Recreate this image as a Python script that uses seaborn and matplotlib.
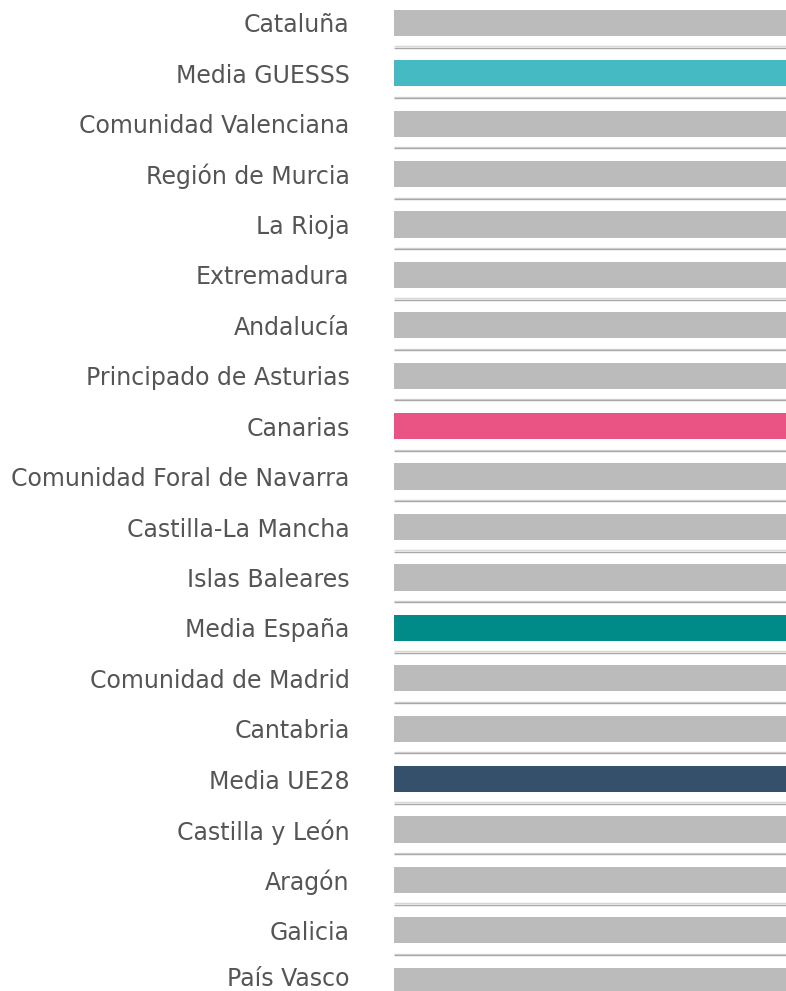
import pandas as pd
import matplotlib.pyplot as plt
import matplotlib.transforms as mtransforms
import seaborn as sns

# Regions in chart order (top to bottom)
regiones = [
    "Cataluña", "Media GUESSS", "Comunidad Valenciana", "Región de Murcia",
    "La Rioja", "Extremadura", "Andalucía", "Principado de Asturias",
    "Canarias", "Comunidad Foral de Navarra", "Castilla-La Mancha",
    "Islas Baleares", "Media España", "Comunidad de Madrid", "Cantabria",
    "Media UE28", "Castilla y León", "Aragón", "Galicia", "País Vasco",
]
# all bars reach the same length in the picture
valores = [100] * len(regiones)

colores_destacados = {
    "Media GUESSS": "#45bac3",
    "Canarias": "#e95485",
    "Media España": "#008a88",
    "Media UE28": "#35506b",
}
gris = "#bbbbbb"

df = pd.DataFrame({"region": regiones, "valor": valores})
palette = {r: colores_destacados.get(r, gris) for r in regiones}

sns.set_style("white")
plt.rcParams["font.family"] = ["DejaVu Sans"]

fig = plt.figure(figsize=(7.86, 9.91), dpi=100)
ax = fig.add_axes([394 / 786, 0, 1 - 394 / 786, 1])

sns.barplot(data=df, x="valor", y="region", hue="region", palette=palette,
            order=regiones, orient="h", width=0.52, legend=False,
            saturation=1, linewidth=0, ax=ax)

# separator lines between rows (light line with a darker one beneath)
n = len(regiones)
ax.hlines([i + 0.465 for i in range(n - 1)], 0, 100, color="#d6d6d6",
          linewidth=1.0, zorder=3)
ax.hlines([i + 0.49 for i in range(n - 1)], 0, 100, color="#a8a8a8",
          linewidth=1.0, zorder=3)

ax.set_xlim(0, 100)
ax.set_ylim(19.206, -0.456)
ax.set_xlabel("")
ax.set_ylabel("")
ax.set_xticks([])
ax.tick_params(axis="y", length=0, pad=32, labelsize=17, labelcolor="#555555")
sns.despine(ax=ax, left=True, bottom=True)

# last label sits a little higher so it stays inside the image
ultimo = ax.get_yticklabels()[-1]
ultimo.set_transform(ultimo.get_transform() +
                     mtransforms.ScaledTranslation(0, 4 / 100, fig.dpi_scale_trans))

plt.savefig("out.png", dpi=100)
plt.close()
